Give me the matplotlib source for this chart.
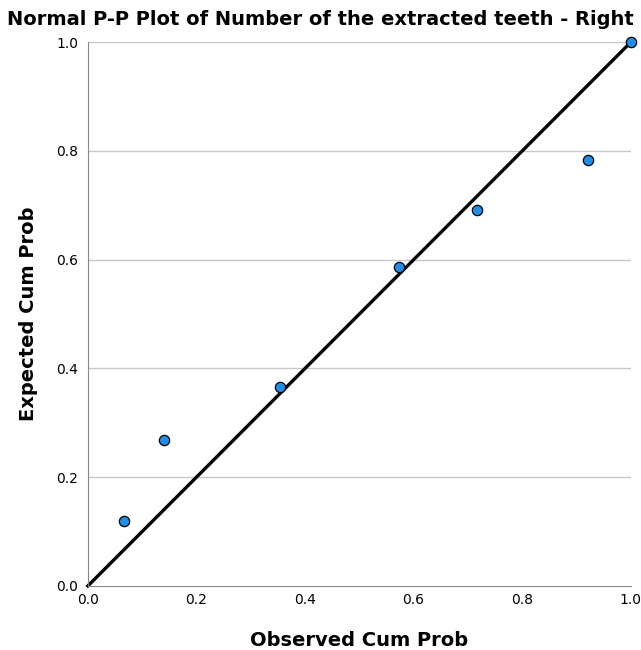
import matplotlib.pyplot as plt

observado = [0.066, 0.140, 0.354, 0.573, 0.716, 0.922, 1.0]
esperado = [0.120, 0.269, 0.366, 0.587, 0.692, 0.783, 1.0]
ticks = [0.0, 0.2, 0.4, 0.6, 0.8, 1.0]
etiquetas = ["0.0", "0.2", "0.4", "0.6", "0.8", "1.0"]

fig = plt.figure(figsize=(6.41, 6.5), dpi=100)
ax = fig.add_axes([0.137, 0.0985, 0.847, 0.8365])

for t in ticks[1:]:
    ax.axhline(t, color="#c8c8c8", linewidth=1, zorder=0)

ax.plot([0, 1], [0, 1], color="black", linewidth=2.4, zorder=2, clip_on=False)
ax.scatter(observado, esperado, s=55, color="#1e8ee6", edgecolors="black",
           linewidths=0.9, zorder=3, clip_on=False)

ax.set_xlim(0, 1)
ax.set_ylim(0, 1)
ax.set_xticks(ticks)
ax.set_xticklabels(etiquetas)
ax.set_yticks(ticks)
ax.set_yticklabels(etiquetas)
ax.tick_params(axis="x", length=0, labelsize=10, pad=5)
ax.tick_params(axis="y", length=0, labelsize=10, pad=7)
for lado in ["top", "right"]:
    ax.spines[lado].set_visible(False)
for lado in ["left", "bottom"]:
    ax.spines[lado].set_color("#888888")

ax.set_xlabel("Observed Cum Prob", fontsize=14, fontweight="bold", labelpad=17)
ax.set_ylabel("Expected Cum Prob", fontsize=14, fontweight="bold", labelpad=13)
fig.text(0.5, 0.985, "Normal P-P Plot of Number of the extracted teeth - Right",
         ha="center", va="top", fontsize=14, fontweight="bold")

fig.savefig("out.png", dpi=100)
